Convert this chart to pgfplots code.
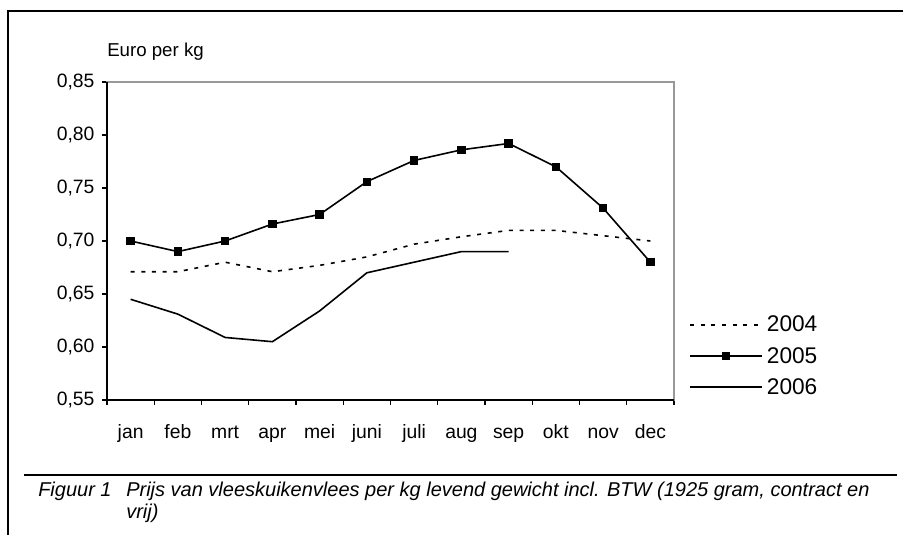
\documentclass[border=0pt]{standalone}
\usepackage{pgfplots}
\pgfplotsset{compat=1.18}
\usepackage{fontspec}
\setmainfont{Liberation Sans}
\begin{document}
\begin{tikzpicture}[x=0.75pt,y=0.75pt]
\path[use as bounding box] (0,0) rectangle (903,535);
\draw[line width=1pt] (8,0) -- (8,524) -- (903,524);
\draw[line width=1pt] (24,60) -- (897,60);
\node[anchor=base west,inner sep=0pt,font=\fontsize{14}{14}\selectfont] at (107,478) {Euro per kg};
\node[anchor=base west,inner sep=0pt,font=\fontsize{15}{15}\selectfont\itshape] at (38,38) {Figuur 1};
\node[anchor=base west,inner sep=0pt,font=\fontsize{15}{15}\selectfont\itshape] at (126,38) {Prijs van vleeskuikenvlees per kg levend gewicht incl. BTW (1925 gram, contract en};
\node[anchor=base west,inner sep=0pt,font=\fontsize{15}{15}\selectfont\itshape] at (126,16) {vrij)};
\begin{axis}[
  at={(80.25pt,101.25pt)}, anchor=south west,
  width=425.25pt, height=238.5pt, scale only axis,
  xmin=-0.5, xmax=11.5, ymin=0.55, ymax=0.85,
  xtick={-0.5,0.5,...,11.5},
  x tick label as interval,
  xticklabels={jan,feb,mrt,apr,mei,juni,juli,aug,sep,okt,nov,dec},
  ytick={0.55,0.60,0.65,0.70,0.75,0.80,0.85},
  /pgf/number format/fixed,
  /pgf/number format/fixed zerofill,
  /pgf/number format/precision=2,
  /pgf/number format/use comma,
  /pgf/number format/assume math mode=true,
  tick align=outside, xtick pos=left, ytick pos=left,
  major tick length=3.75pt,
  tick style={black, line width=0.8pt},
  axis line style={gray!80, line width=0.9pt},
  yticklabel style={font=\fontsize{14.5}{14.5}\selectfont, inner sep=0pt, xshift=-5.5pt},
  xticklabel style={font=\fontsize{14.5}{14.5}\selectfont, anchor=base, inner sep=0pt, yshift=-25.5pt},
  legend style={at={(1.0265,0.138)}, anchor=west, draw=none, fill=none,
    font=\fontsize{17}{17}\selectfont, inner sep=0pt, row sep=10pt, column sep=3pt,
    nodes={inner sep=0pt}},
  legend cell align=left,
  legend image code/.code={\draw[mark repeat=2,mark phase=2,#1] plot coordinates {(0pt,0pt) (27pt,0pt) (54pt,0pt)};},
  clip=false,
]
\addplot[black, line width=1.2pt, dash pattern=on 3pt off 5pt] coordinates {
(0,0.671) (1,0.671) (2,0.680) (3,0.671) (4,0.677) (5,0.685) (6,0.697) (7,0.704) (8,0.710) (9,0.710) (10,0.705) (11,0.700)};
\addlegendentry{2004}
\addplot[black, line width=1.2pt, mark=square*, mark size=2.5pt] coordinates {
(0,0.700) (1,0.690) (2,0.700) (3,0.716) (4,0.725) (5,0.756) (6,0.776) (7,0.786) (8,0.792) (9,0.770) (10,0.731) (11,0.680)};
\addlegendentry{2005}
\addplot[black, line width=1.2pt] coordinates {
(0,0.645) (1,0.631) (2,0.609) (3,0.605) (4,0.634) (5,0.670) (6,0.680) (7,0.690) (8,0.690)};
\addlegendentry{2006}
\draw[black, line width=0.9pt] (rel axis cs:0,1) -- (rel axis cs:0,0) -- (rel axis cs:1,0);
\end{axis}
\end{tikzpicture}
\end{document}
